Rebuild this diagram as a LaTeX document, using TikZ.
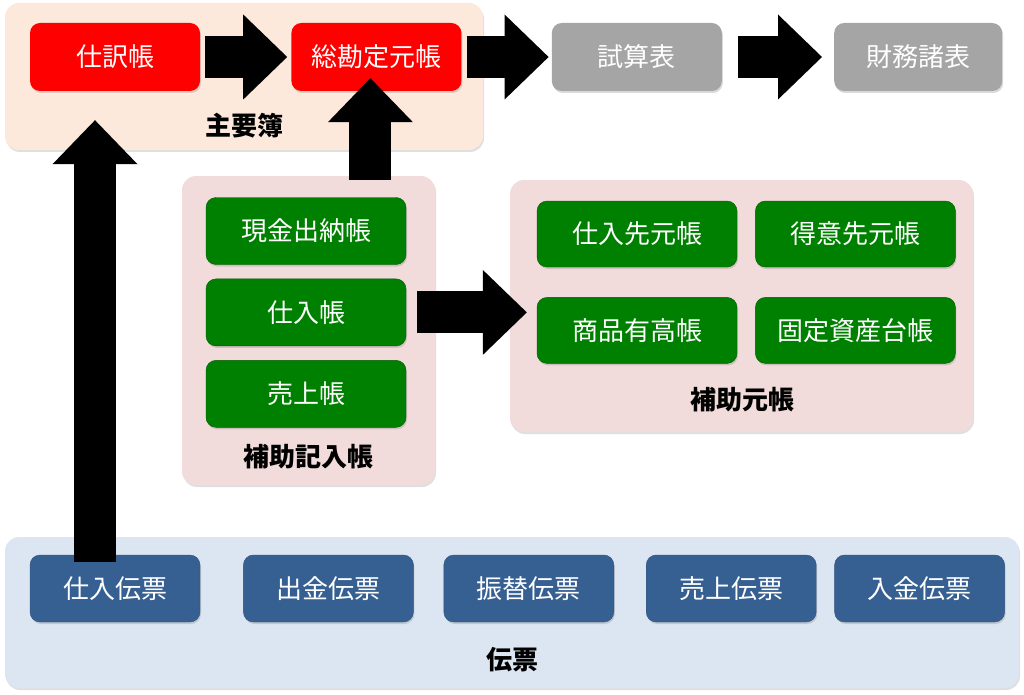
\documentclass[tikz,border=0pt]{standalone}
\usepackage{fontspec}
\setmainfont{Noto Sans CJK JP}
\usepackage{tikz}
\usetikzlibrary{arrows.meta, positioning, calc, shadows}
\definecolor{LedgerRed}{HTML}{FF0000}
\definecolor{ReportGray}{HTML}{A5A5A5}
\definecolor{SubGreen}{HTML}{008000}
\definecolor{SlipBlue}{HTML}{376092}
\definecolor{MainBg}{HTML}{FCE9DB}
\definecolor{SubBg}{HTML}{F2DCDB}
\definecolor{SlipBg}{HTML}{DCE6F2}
\tikzset{
  % Group styles
  groupbox/.style={rectangle, rounded corners=14pt, draw=none, inner sep=0pt, drop shadow={shadow xshift=1pt, shadow yshift=-2pt, opacity=0.25}},
  grouplabel/.style={font=\fontsize{26}{30}\selectfont\bfseries, inner sep=0pt},
  % Box styles
  mainbox/.style={rectangle, rounded corners=10pt, fill=LedgerRed, text=white, minimum width=170pt, minimum height=68pt, font=\fontsize{26}{30}\selectfont, drop shadow={shadow xshift=1pt, shadow yshift=-2pt, opacity=0.3}},
  reportbox/.style={mainbox, fill=ReportGray},
  subbox/.style={mainbox, fill=SubGreen, draw=SubGreen!70!black, minimum width=200pt, minimum height=67pt},
  slipbox/.style={mainbox, fill=SlipBlue, draw=SlipBlue!85!black, minimum height=67pt},
  % Arrow styles
  bigarrow/.style={black, line width=42pt, -{Triangle[length=44pt, width=85pt, line width=0pt]}}
}
\begin{document}
\begin{tikzpicture}[x=1pt, y=-1pt]
  \useasboundingbox (0,0) rectangle (1024,695);

  % Groups
  \node[groupbox, fill=MainBg, minimum width=478pt, minimum height=147pt] (mainbook) at (244,76.5) {};
  \node[groupbox, fill=SubBg, minimum width=253pt, minimum height=309pt] (kinyu) at (308.5,330.5) {};
  \node[groupbox, fill=SubBg, minimum width=463pt, minimum height=252pt] (motocho) at (741.5,306) {};
  \node[groupbox, fill=SlipBg, minimum width=1014pt, minimum height=151pt] (denpyo) at (512,612.5) {};

  \node[grouplabel] (mainlabel) at (244,126) {主要簿};
  \node[grouplabel] (kinyulabel) at (308,457) {補助記入帳};
  \node[grouplabel] (motocholabel) at (742,400) {補助元帳};
  \node[grouplabel] (denpyolabel) at (512,660) {伝票};

  % Main books and reports
  \node[mainbox] (shiwake) at (115,57) {仕訳帳};
  \node[mainbox, right=91pt of shiwake] (sokanjo) {総勘定元帳};
  \node[reportbox, right=90pt of sokanjo] (shisan) {試算表};
  \node[reportbox, right=112pt of shisan, minimum width=168pt] (zaimu) {財務諸表};

  % Subsidiary journals
  \node[subbox] (genkin) at (306,231) {現金出納帳};
  \node[subbox, below=14pt of genkin] (shiire) {仕入帳};
  \node[subbox, below=14pt of shiire] (uriage) {売上帳};

  % Subsidiary ledgers
  \node[subbox, minimum height=66pt] (shiiresaki) at (637,234) {仕入先元帳};
  \node[subbox, minimum height=66pt, right=18pt of shiiresaki] (tokui) {得意先元帳};
  \node[subbox, minimum height=66pt, below=30pt of shiiresaki] (shohin) {商品有高帳};
  \node[subbox, minimum height=66pt, right=18pt of shohin] (kotei) {固定資産台帳};

  % Slips
  \node[slipbox] (shiireden) at (115,588.5) {仕入伝票};
  \node[slipbox, right=43pt of shiireden] (shukkin) {出金伝票};
  \node[slipbox, right=30pt of shukkin] (furikae) {振替伝票};
  \node[slipbox, right=32pt of furikae] (uriageden) {売上伝票};
  \node[slipbox, right=18pt of uriageden] (nyukin) {入金伝票};

  % Arrows
  \draw[bigarrow, shorten <=5pt, shorten >=4pt] (shiwake) -- (sokanjo);
  \draw[bigarrow, shorten <=5pt, shorten >=3pt] (sokanjo) -- (shisan);
  \draw[bigarrow, shorten <=16pt, shorten >=12pt] (shisan) -- (zaimu);
  \draw[bigarrow, shorten <=-4pt, shorten >=-13pt] ($(sokanjo.south |- kinyu.north)+(-6,0)$) -- ($(sokanjo.south)+(-6,0)$);
  \draw[bigarrow, shorten <=-7pt, shorten >=29pt] ($(shiireden.north)+(-20,0)$) -- ($(shiwake.south)+(-20,0)$);
  \draw[bigarrow, shorten <=11pt, shorten >=-17pt] (shiire.east) -- (shiire.east -| motocho.west);
\end{tikzpicture}
\end{document}
